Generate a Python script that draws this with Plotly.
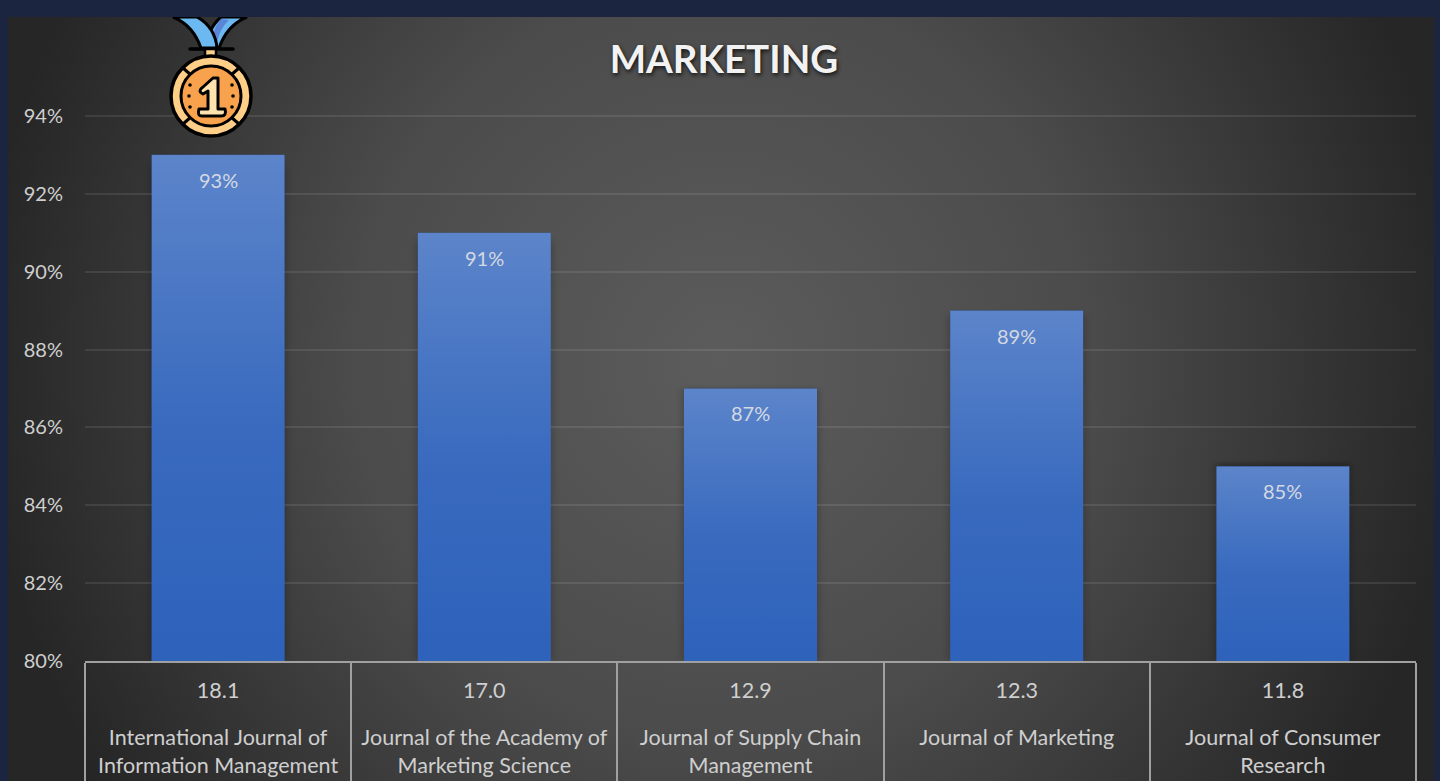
import base64
import plotly.graph_objects as go

journals = ["International Journal of<br>Information Management<br> <br> ",
            "Journal of the Academy of<br>Marketing Science<br> <br> ",
            "Journal of Supply Chain<br>Management<br> <br> ",
            "Journal of Marketing<br> <br> <br> ",
            "Journal of Consumer<br>Research<br> <br> "]
scores = ["18.1<br> ", "17.0<br> ", "12.9<br> ", "12.3<br> ", "11.8<br> "]
percent = [93, 91, 87, 89, 85]
percent_labels = ["93%", "91%", "87%", "89%", "85%"]
y_ticks = [80, 82, 84, 86, 88, 90, 92, 94]
y_tick_labels = ["80%", "82%", "84%", "86%", "88%", "90%", "92%", "94%"]

W, H = 1440, 781
L, R, T, B = 85, 24, 112, 120
PW, PH = W - L - R, H - T - B
BAR_WIDTH = 0.5
Y_MAX = 94.1
UNIT = PH / (Y_MAX - y_ticks[0])


def uri(svg):
    return "data:image/svg+xml;base64," + base64.b64encode(svg.encode()).decode()


def paper_x(px):
    return (px - L) / PW


def paper_y(py):
    return 1 - (py - T) / PH


panel_svg = """<svg xmlns='http://www.w3.org/2000/svg' width='1426' height='764' preserveAspectRatio='none'>
<defs><radialGradient id='g' cx='0.5' cy='0.45' r='0.5' gradientTransform='translate(0.5 0.45) scale(1.04 2.0) translate(-0.5 -0.45)'>
<stop offset='0%' stop-color='#5c5c5c'/><stop offset='50%' stop-color='#4b4b4b'/><stop offset='100%' stop-color='#262626'/>
</radialGradient></defs><rect width='1426' height='764' fill='url(#g)'/></svg>"""

sheen_svg = """<svg xmlns='http://www.w3.org/2000/svg' width='100' height='100' preserveAspectRatio='none'>
<defs><linearGradient id='g' x1='0' y1='0' x2='0' y2='1'>
<stop offset='0%' stop-color='#ffffff' stop-opacity='0.22'/><stop offset='55%' stop-color='#ffffff' stop-opacity='0.05'/>
<stop offset='100%' stop-color='#ffffff' stop-opacity='0'/></linearGradient></defs>
<rect width='100' height='100' fill='url(#g)'/></svg>"""

shadow_svg = """<svg xmlns='http://www.w3.org/2000/svg' width='160' height='500' viewBox='0 0 160 500' preserveAspectRatio='none'>
<defs><filter id='b' x='-20%' y='-20%' width='140%' height='140%'><feGaussianBlur stdDeviation='5'/></filter></defs>
<rect x='13' y='24' width='134' height='476' fill='#000' fill-opacity='0.3' filter='url(#b)'/></svg>"""

medal_svg = """<svg xmlns='http://www.w3.org/2000/svg' width='100' height='124' viewBox='0 0 100 124'>
<path d='M86 0 Q66 8 58 31 L46 31 Q46 12 60 0 Z' fill='#6cb8f0' stroke='#000' stroke-width='3'/>
<path d='M60 2 Q52 10 52 24 L56 27 Q58 12 68 3 Z' fill='#5a86d8'/>
<path d='M12 0 Q32 8 40 31 L56 31 Q54 10 36 0 Z' fill='#6cb8f0' stroke='#000' stroke-width='3'/>
<path d='M29 32 H72' stroke='#000' stroke-width='3.5' stroke-linecap='round'/>
<rect x='44' y='32' width='11' height='8' fill='#fbd28a' stroke='#000' stroke-width='2.5'/>
<circle cx='50' cy='79' r='40' fill='#ffcf87' stroke='#000' stroke-width='3.5'/>
<circle cx='50' cy='79' r='30' fill='#f9a24d' stroke='#000' stroke-width='3'/>
<g stroke='#000' stroke-width='3'><path d='M22 51 L30 58'/><path d='M78 51 L70 58'/><path d='M22 107 L30 100'/><path d='M78 107 L70 100'/></g>
<path d='M42 70 L52 61 L57 61 L57 92 L64 92 Q66 99 60 99 L41 99 Q36 99 38 92 L47 92 L47 74 L42 77 Q36 74 42 70 Z' fill='#ffe3ae' stroke='#000' stroke-width='3' stroke-linejoin='round'/>
<g fill='#000'><circle cx='29' cy='68' r='1.8'/><circle cx='28' cy='79' r='1.8'/><circle cx='29' cy='90' r='1.8'/>
<circle cx='71' cy='68' r='1.8'/><circle cx='72' cy='79' r='1.8'/><circle cx='71' cy='90' r='1.8'/></g>
</svg>"""

fig = go.Figure(go.Bar(
    x=[journals, scores],
    y=percent,
    width=BAR_WIDTH,
    marker=dict(color="#2e62bb", line=dict(width=0)),
    hoverinfo="skip",
))

images = [dict(source=uri(panel_svg), xref="paper", yref="paper",
               x=paper_x(8), y=paper_y(17), sizex=1426 / PW, sizey=764 / PH,
               sizing="stretch", xanchor="left", yanchor="top", layer="below"),
          dict(source=uri(medal_svg), xref="paper", yref="paper",
               x=paper_x(161), y=paper_y(17), sizex=100 / PW, sizey=124 / PH,
               sizing="contain", xanchor="left", yanchor="top", layer="above")]
annotations = []
for i, v in enumerate(percent):
    pad = 13 / 134 * BAR_WIDTH
    images.append(dict(source=uri(shadow_svg), xref="x", yref="y",
                       x=i - BAR_WIDTH / 2 - pad, y=v + 13 / UNIT, sizex=BAR_WIDTH + 2 * pad,
                       sizey=v - y_ticks[0] + 13 / UNIT,
                       sizing="stretch", xanchor="left", yanchor="top", layer="below"))
    images.append(dict(source=uri(sheen_svg), xref="x", yref="y",
                       x=i - BAR_WIDTH / 2, y=v, sizex=BAR_WIDTH, sizey=v - y_ticks[0],
                       sizing="stretch", xanchor="left", yanchor="top", layer="above"))
    annotations.append(dict(x=i, y=v, xref="x", yref="y", text=percent_labels[i], showarrow=False,
                            yshift=-25, font=dict(family="Lato", size=20, color="#d4d8e2")))

fig.update_layout(
    width=W, height=H,
    margin=dict(l=L, r=R, t=T, b=B, autoexpand=False),
    paper_bgcolor="#1b2540",
    plot_bgcolor="rgba(0,0,0,0)",
    font=dict(family="Lato", size=21, color="#cfcfcf"),
    showlegend=False,
    images=images,
    annotations=annotations,
    title=dict(text="<b>MARKETING</b>", x=724 / W, xanchor="center",
               y=1 - 60 / H, yanchor="middle",
               font=dict(family="Lato", size=38.5, color="#f2f2f2", shadow="1px 2px 4px rgba(0,0,0,0.8)")),
    xaxis=dict(type="multicategory", showline=True, linecolor="#a0a0a0", linewidth=2,
               showdividers=True, dividercolor="#a0a0a0", dividerwidth=2,
               ticks="", ticklabelstandoff=9,
               tickfont=dict(family="Lato", size=21.5, color="#cfcfcf"), showgrid=False),
    yaxis=dict(range=[y_ticks[0], Y_MAX], tickmode="array", tickvals=y_ticks, ticktext=y_tick_labels,
               gridcolor="rgba(255,255,255,0.09)", gridwidth=2, zeroline=False, showline=False,
               ticks="outside", ticklen=17, tickcolor="rgba(0,0,0,0)",
               tickfont=dict(family="Lato", size=20, color="#cfcfcf")),
)

fig.write_html("out.html", config=dict(displayModeBar=False),
               post_script="document.body.style.margin='0';document.body.style.overflow='hidden';")
